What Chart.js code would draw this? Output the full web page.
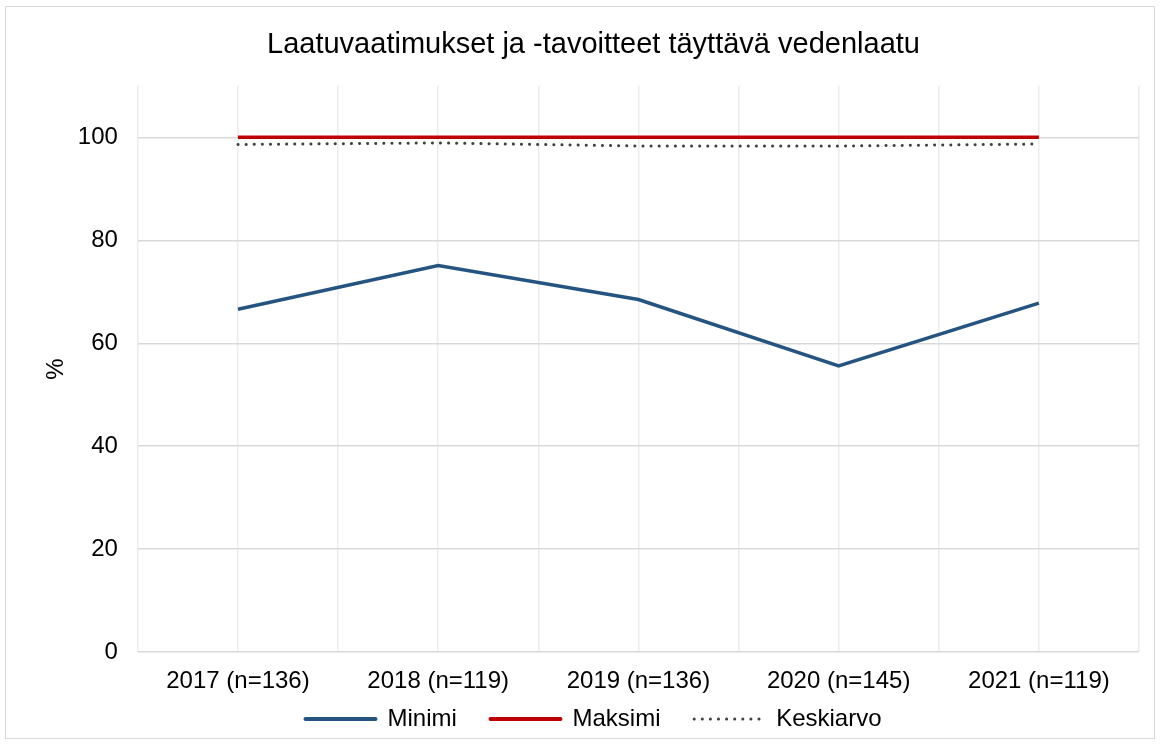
<!DOCTYPE html>
<html>
<head>
<meta charset="utf-8">
<script src="https://cdn.jsdelivr.net/npm/chart.js@4/dist/chart.umd.min.js"></script>
<style>
  body { margin: 0; background: #fff; }
  #box {
    position: absolute; left: 5px; top: 6px;
    width: 1150px; height: 733px;
    border: 1px solid #d9d9d9; box-sizing: border-box;
  }
</style>
</head>
<body>
<div id="box"><canvas id="chart"></canvas></div>
<script>
// ── Data ─────────────────────────────────────────────
const years     = ['2017 (n=136)', '2018 (n=119)', '2019 (n=136)', '2020 (n=145)', '2021 (n=119)'];
const minimi    = [66.6, 75.1, 68.5, 55.6, 67.8];
const maksimi   = [100, 100, 100, 100, 100];
const keskiarvo = [98.6, 98.9, 98.3, 98.3, 98.7];

const font = 'Liberation Sans, Arial, sans-serif';
const toPoints = arr => arr.map((v, i) => ({ x: i, y: v }));

// Legend entries drawn as short line samples (keeps the dotted style).
// Trailing spaces widen the gap between entries without adding
// vertical legend padding.
const legendLabels = chart => chart.data.datasets.map((ds, i, all) => ({
    text: i < all.length - 1 ? ds.label + '    ' : ds.label,
    strokeStyle: ds.borderColor,
    fillStyle: ds.borderColor,
    lineWidth: ds.legendWidth,
    lineDash: ds.borderDash || [],
    lineCap: 'round',
    pointStyle: 'line',
    fontColor: '#000',
    hidden: false,
    datasetIndex: i
}));

new Chart(document.getElementById('chart'), {
    type: 'line',
    data: {
        datasets: [
            {
                label: 'Minimi',
                data: toPoints(minimi),
                borderColor: '#255480',
                borderWidth: 3.5,
                legendWidth: 4,
                pointRadius: 0
            },
            {
                label: 'Maksimi',
                data: toPoints(maksimi),
                borderColor: '#c00000',
                borderWidth: 3.5,
                legendWidth: 4,
                pointRadius: 0
            },
            {
                label: 'Keskiarvo',
                data: toPoints(keskiarvo),
                borderColor: '#404040',
                borderWidth: 3,
                legendWidth: 3,
                borderCapStyle: 'round',
                borderDash: [0.1, 8],
                pointRadius: 0
            }
        ]
    },
    options: {
        responsive: true,
        maintainAspectRatio: false,
        animation: false,
        layout: { padding: { left: 36, right: 9, top: 0, bottom: -3 } },
        plugins: {
            title: {
                display: true,
                text: 'Laatuvaatimukset ja -tavoitteet täyttävä vedenlaatu',
                color: '#000',
                font: { family: font, size: 29, weight: 'normal' },
                padding: { top: 21, bottom: 23 }
            },
            legend: {
                position: 'bottom',
                labels: {
                    color: '#000',
                    font: { family: font, size: 24 },
                    usePointStyle: true,
                    pointStyleWidth: 70,
                    padding: 7,
                    generateLabels: legendLabels
                }
            },
            tooltip: { enabled: false }
        },
        scales: {
            x: {
                type: 'linear',
                min: -0.5,
                max: 4.5,
                afterFit: axis => { axis.height -= 11; },
                grid: { color: '#ececec', lineWidth: 1.5, drawTicks: false },
                border: { display: false },
                ticks: {
                    stepSize: 0.5,
                    autoSkip: false,
                    maxRotation: 0,
                    padding: 15,
                    color: '#000',
                    font: { family: font, size: 24 },
                    callback: v => Number.isInteger(v) ? years[v] : ''
                }
            },
            y: {
                min: 0,
                max: 110,
                afterBuildTicks: axis => { axis.ticks = axis.ticks.filter(t => t.value <= 100); },
                grid: { color: '#d9d9d9', lineWidth: 1.5, drawTicks: false },
                border: { display: false },
                title: {
                    display: true,
                    text: '%',
                    color: '#000',
                    font: { family: font, size: 24 },
                    padding: { top: 0, bottom: -13 }
                },
                ticks: {
                    stepSize: 20,
                    padding: 20,
                    color: '#000',
                    font: { family: font, size: 24 }
                }
            }
        }
    }
});
</script>
</body>
</html>
